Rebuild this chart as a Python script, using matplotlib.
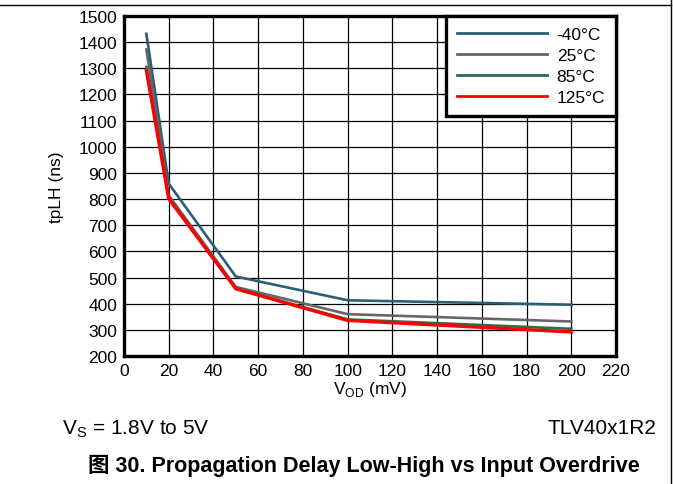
import matplotlib
matplotlib.use("Agg")
import matplotlib.pyplot as plt
from matplotlib.lines import Line2D

plt.rcParams['font.family'] = ['Liberation Sans', 'Noto Sans CJK SC', 'DejaVu Sans']

# input overdrive (mV)
vod = [10, 20, 50, 100, 200]
# propagation delay low-high (ns) per temperature
tplh_m40 = [1432, 859, 504, 413, 396]
tplh_25 = [1372, 814, 464, 360, 332]
tplh_85 = [1305, 805, 458, 340, 304]
tplh_125 = [1292, 801, 457, 336, 292]

labels = ['-40°C', '25°C', '85°C', '125°C']
colors = ['#2b5f78', '#666666', '#2e6b4c', '#ff0000']
xticks = list(range(0, 221, 20))
yticks = list(range(200, 1501, 100))

fig = plt.figure(figsize=(6.73, 4.85), dpi=100)
ax = fig.add_axes([124/673, 1-357/485, (616-124)/673, (357-17)/485])

series = [tplh_m40, tplh_25, tplh_85, tplh_125]
for ys, c, lab in zip(series, colors, labels):
    lw = 2.4 if c == '#ff0000' else 1.9
    ax.plot(vod, ys, color=c, lw=lw, label=lab, solid_joinstyle='miter', zorder=3)

ax.set_xlim(0, 220)
ax.set_ylim(200, 1500)
ax.set_xticks(xticks)
ax.set_yticks(yticks)
ax.tick_params(labelsize=12.5, length=0, pad=5)
ax.grid(True, color='black', lw=0.9)
for s in ax.spines.values():
    s.set_linewidth(2.4)

ax.set_ylabel('tpLH (ns)', fontsize=12.5, labelpad=10)
ax.set_xlabel('V$_{\\mathregular{OD}}$ (mV)', fontsize=12.5, labelpad=1)

leg = ax.legend(loc='upper right', fontsize=12.5, handlelength=5.2, handletextpad=0.57,
                labelspacing=0.34, borderpad=0.62, fancybox=False, framealpha=1,
                edgecolor='black', borderaxespad=0)
leg.get_frame().set_linewidth(2.4)
for h in leg.get_lines():
    h.set_linewidth(2.0)

fig.text(62/673, 1-429/485, 'V$_{\\mathregular{S}}$ = 1.8V to 5V', fontsize=15, va='center', ha='left')
fig.text(656/673, 1-429/485, 'TLV40x1R2', fontsize=15, va='center', ha='right')
fig.text(364/673, 1-466/485, '图 30. Propagation Delay Low-High vs Input Overdrive',
         fontsize=15.5, fontweight='bold', va='center', ha='center')

# page frame lines
fig.add_artist(Line2D([0, 671/673], [1-6/485, 1-6/485], transform=fig.transFigure, color='black', lw=1))
fig.add_artist(Line2D([671/673, 671/673], [0, 1], transform=fig.transFigure, color='black', lw=1))

fig.savefig('out.png', dpi=100)
